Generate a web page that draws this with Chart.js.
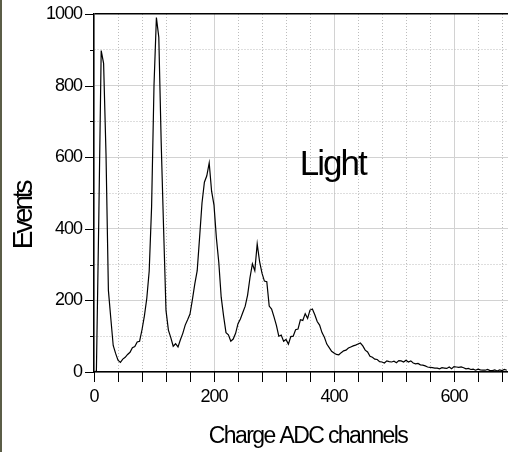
<!DOCTYPE html>
<html>
<head>
<meta charset="utf-8">
<script src="https://cdn.jsdelivr.net/npm/chart.js@4/dist/chart.umd.min.js"></script>
<style>
  html, body { margin: 0; padding: 0; background: #fff; }
  #wrap { position: relative; width: 508px; height: 452px; overflow: hidden; }
  #edge { position: absolute; left: 0; top: 0; width: 2px; height: 452px; background: #5b5d47; }
  canvas { display: block; }
</style>
</head>
<body>
<div id="wrap">
  <canvas id="c" width="508" height="452"></canvas>
  <div id="edge"></div>
</div>
<script>
// Charge spectrum: ADC channel (every 4th channel) and event counts
const channels = [
  0, 4, 8, 12, 16, 20, 24, 28, 32, 36,
  40, 44, 48, 52, 56, 60, 64, 68, 72, 76,
  80, 84, 88, 92, 96, 100, 104, 108, 112, 116,
  120, 124, 128, 132, 136, 140, 144, 148, 152, 156,
  160, 164, 168, 172, 176, 180, 184, 188, 192, 196,
  200, 204, 208, 212, 216, 220, 224, 228, 232, 236,
  240, 244, 248, 252, 256, 260, 264, 268, 272, 276,
  280, 284, 288, 292, 296, 300, 304, 308, 312, 316,
  320, 324, 328, 332, 336, 340, 344, 348, 352, 356,
  360, 364, 368, 372, 376, 380, 384, 388, 392, 396,
  400, 404, 408, 412, 416, 420, 424, 428, 432, 436,
  440, 444, 448, 452, 456, 460, 464, 468, 472, 476,
  480, 484, 488, 492, 496, 500, 504, 508, 512, 516,
  520, 524, 528, 532, 536, 540, 544, 548, 552, 556,
  560, 564, 568, 572, 576, 580, 584, 588, 592, 596,
  600, 604, 608, 612, 616, 620, 624, 628, 632, 636,
  640, 644, 648, 652, 656, 660, 664, 668, 672, 676,
  680, 684, 688
];
const events = [
  0, 3, 430, 898, 862, 610, 228, 150, 74, 52,
  33, 27, 36, 41, 49, 55, 68, 71, 84, 86,
  118, 157, 206, 282, 462, 800, 990, 935, 640, 400,
  172, 117, 96, 72, 79, 70, 90, 108, 131, 146,
  162, 202, 246, 283, 376, 472, 530, 548, 584, 505,
  466, 374, 306, 209, 156, 110, 104, 86, 92, 108,
  135, 148, 166, 184, 215, 264, 302, 283, 358, 308,
  276, 254, 252, 184, 176, 154, 130, 100, 103, 86,
  91, 78, 99, 100, 118, 120, 146, 144, 163, 150,
  173, 176, 160, 141, 131, 110, 97, 78, 68, 58,
  53, 49, 48, 54, 59, 61, 67, 70, 73, 75,
  78, 81, 73, 61, 56, 44, 41, 36, 35, 29,
  28, 25, 31, 29, 28, 30, 26, 32, 31, 28,
  33, 28, 31, 25, 23, 24, 20, 19, 17, 14,
  13, 12, 11, 11, 9, 12, 11, 10, 14, 9,
  15, 14, 13, 14, 12, 9, 10, 7, 8, 5,
  8, 6, 5, 5, 7, 4, 4, 6, 3, 6,
  4, 7, 5
];

// Axis ticks: every value gets a tick mark and grid line, labelled ones get solid grid
const xTicks = [0, 40, 80, 120, 160, 200, 240, 280, 320, 360, 400, 440, 480, 520, 560, 600, 640, 680];
const xLabelled = [0, 200, 400, 600];
const yTicks = [0, 100, 200, 300, 400, 500, 600, 700, 800, 900, 1000];
const yLabelled = [0, 200, 400, 600, 800, 1000];

const xTitle = 'Charge ADC channels';
const yTitle = 'Events';
const note = { text: 'Light', x: 343, y: 550 };

const FONT = "'Liberation Sans', Arial, Helvetica, sans-serif";

const isMajor = (list, c) => c.tick && list.includes(c.tick.value);

// Tight tracking for the tick labels (canvas state is reset when the canvas resizes)
const tracking = {
  id: 'tracking',
  beforeUpdate(chart) { chart.ctx.letterSpacing = '-1px'; },
  beforeDraw(chart) { chart.ctx.letterSpacing = '-1px'; }
};

// Tick marks outside the frame, axis titles and the in-plot note
const decorations = {
  id: 'decorations',
  afterDraw(chart) {
    const { ctx, chartArea: a, scales: { x, y } } = chart;
    ctx.save();
    ctx.strokeStyle = '#000';
    ctx.lineWidth = 1;
    ctx.beginPath();
    xTicks.forEach(v => {
      const px = Math.round(x.getPixelForValue(v)) + 0.5;
      ctx.moveTo(px, a.bottom);
      ctx.lineTo(px, a.bottom + 10);
    });
    yTicks.forEach(v => {
      const py = Math.round(y.getPixelForValue(v)) + 0.5;
      const len = yLabelled.includes(v) ? 9 : 4;
      ctx.moveTo(a.left, py);
      ctx.lineTo(a.left - len, py);
    });
    ctx.stroke();

    ctx.fillStyle = '#000';
    ctx.textBaseline = 'alphabetic';
    ctx.textAlign = 'center';

    ctx.font = `23px ${FONT}`;
    ctx.letterSpacing = '-1.6px';
    ctx.fillText(xTitle, a.left + 214, a.bottom + 71);

    ctx.save();
    ctx.translate(32, a.top + 202);
    ctx.rotate(-Math.PI / 2);
    ctx.font = `28px ${FONT}`;
    ctx.letterSpacing = '-3.2px';
    ctx.fillText(yTitle, 0, 0);
    ctx.restore();

    ctx.textAlign = 'left';
    ctx.font = `35px ${FONT}`;
    ctx.letterSpacing = '-2px';
    ctx.fillText(note.text, x.getPixelForValue(note.x), y.getPixelForValue(note.y));
    ctx.restore();
  }
};

new Chart(document.getElementById('c'), {
  type: 'line',
  data: {
    datasets: [{
      data: channels.map((c, i) => ({ x: c, y: events[i] })),
      borderColor: '#000',
      borderWidth: 1.2,
      pointRadius: 0,
      tension: 0,
      fill: false
    }]
  },
  options: {
    responsive: false,
    animation: false,
    devicePixelRatio: 1,
    layout: { padding: { top: 14, left: 0, right: 0, bottom: 0 } },
    plugins: { legend: { display: false }, tooltip: { enabled: false } },
    scales: {
      x: {
        type: 'linear',
        min: 0,
        max: 690,
        afterBuildTicks: s => { s.ticks = xTicks.map(v => ({ value: v })); },
        afterFit: s => { s.height = 80; s.paddingLeft = 0; s.paddingRight = 0; },
        ticks: {
          autoSkip: false,
          maxRotation: 0,
          padding: 14,
          color: '#000',
          font: { family: FONT, size: 18 },
          callback: v => (xLabelled.includes(v) ? String(v) : '')
        },
        grid: {
          drawTicks: false,
          color: c => (isMajor(xLabelled, c) ? '#d2d2d2' : '#bdbdbd'),
          lineWidth: 1
        },
        border: {
          display: true,
          color: '#000',
          width: 1.5,
          dash: c => (isMajor(xLabelled, c) ? [] : [1, 2])
        }
      },
      y: {
        type: 'linear',
        min: 0,
        max: 1000,
        afterBuildTicks: s => { s.ticks = yTicks.map(v => ({ value: v })); },
        afterFit: s => { s.width = 94; s.paddingTop = 0; s.paddingBottom = 0; },
        ticks: {
          autoSkip: false,
          padding: 12,
          color: '#000',
          font: { family: FONT, size: 18 },
          callback: v => (yLabelled.includes(v) ? String(v) : '')
        },
        grid: {
          drawTicks: false,
          color: c => (c.tick && c.tick.value === 1000 ? '#000' : (isMajor(yLabelled, c) ? '#d2d2d2' : '#bdbdbd')),
          lineWidth: c => (c.tick && c.tick.value === 1000 ? 1.5 : 1)
        },
        border: {
          display: true,
          color: '#000',
          width: 1.5,
          dash: c => (isMajor(yLabelled, c) ? [] : [1, 2])
        }
      }
    }
  },
  plugins: [tracking, decorations]
});
</script>
</body>
</html>
